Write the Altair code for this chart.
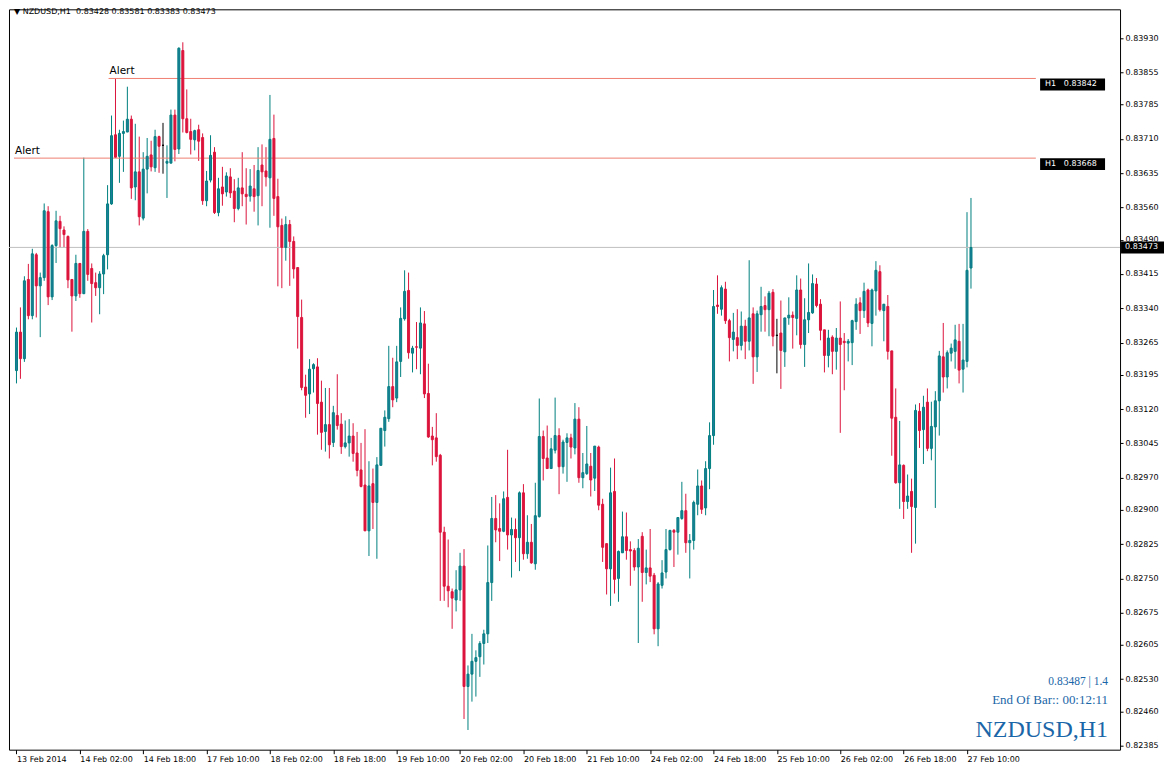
import altair as alt
import pandas as pd

# ---------------- data (prices in points, i.e. price x 1e5) ----------------
symbol = "NZDUSD,H1"
header_text = "\u25BC NZDUSD,H1\u00a0\u00a00.83428 0.83581 0.83383 0.83473"

x_labels = ["13 Feb 2014", "14 Feb 02:00", "14 Feb 18:00", "17 Feb 10:00", "18 Feb 02:00",
            "18 Feb 18:00", "19 Feb 10:00", "20 Feb 02:00", "20 Feb 18:00", "21 Feb 10:00",
            "24 Feb 02:00", "24 Feb 18:00", "25 Feb 10:00", "26 Feb 02:00", "26 Feb 18:00",
            "27 Feb 10:00"]
bars_per_label = 16

y_ticks = [0.83930, 0.83855, 0.83785, 0.83710, 0.83635, 0.83560, 0.83490, 0.83415, 0.83340,
           0.83265, 0.83195, 0.83120, 0.83045, 0.82970, 0.82900, 0.82825, 0.82750, 0.82675,
           0.82605, 0.82530, 0.82460, 0.82385]

open_pts = [
    83204, 83288, 83230, 83403, 83324, 83457, 83389, 83407, 83551, 83365,
    83477, 83530, 83511, 83497, 83403, 83367, 83438, 83372, 83508, 83427,
    83396, 83385, 83415, 83457, 83568, 83719, 83672, 83722, 83725, 83753,
    83605, 83638, 83537, 83644, 83675, 83647, 83715, 83696, 83657, 83657,
    83762, 83688, 83903, 83754, 83726, 83708, 83730, 83713, 83575, 83620,
    83681, 83549, 83605, 83594, 83627, 83596, 83558, 83603, 83589, 83585,
    83601, 83586, 83653, 83640, 83625, 83711, 83584, 83521, 83473, 83523,
    83486, 83429, 83320, 83168, 83153, 83208, 83212, 83135, 83071, 83086,
    83047, 83106, 83087, 83038, 83046, 83061, 83024, 82987, 82954, 82854,
    82957, 82916, 82997, 83073, 83099, 83169, 83144, 83224, 83317, 83379,
    83242, 83256, 83253, 83306, 83154, 83061, 83057, 83019, 82851, 82733,
    82721, 82703, 82725, 82777, 82514, 82541, 82569, 82579, 82608, 82629,
    82741, 82881, 82859, 82853, 82927, 82845, 82857, 82839, 82937, 82804,
    82829, 82782, 82885, 83060, 83013, 82990, 83030, 83062, 82994, 83047,
    83057, 83035, 83098, 82970, 82979, 82995, 82969, 83037, 82912, 82826,
    82771, 82940, 82750, 82806, 82841, 82813, 82811, 82775, 82842, 82763,
    82773, 82757, 82640, 82735, 82764, 82813, 82855, 82851, 82881, 82898,
    82828, 82833, 82912, 82952, 82904, 82990, 83062, 83347, 83338, 83382,
    83313, 83272, 83276, 83259, 83301, 83268, 83328, 83234, 83326, 83346,
    83337, 83375, 83281, 83286, 83245, 83319, 83325, 83318, 83380, 83261,
    83315, 83330, 83393, 83349, 83293, 83237, 83277, 83246, 83275, 83268,
    83264, 83265, 83311, 83352, 83335, 83380, 83307, 83378, 83420, 83335,
    83344, 83247, 83102, 82959, 82997, 82918, 82940, 82905, 83115, 83075,
    83135, 83034, 83081, 83138, 83234, 83190, 83242, 83246, 83268, 83207,
    83224, 83428]

high_pts = [
    83298, 83342, 83410, 83437, 83470, 83461, 83418, 83569, 83563, 83480,
    83553, 83542, 83519, 83499, 83404, 83457, 83439, 83669, 83513, 83438,
    83418, 83421, 83459, 83609, 83761, 83842, 83730, 83750, 83824, 83761,
    83743, 83715, 83681, 83712, 83706, 83730, 83717, 83745, 83696, 83774,
    83774, 83910, 83921, 83818, 83754, 83730, 83741, 83722, 83640, 83718,
    83692, 83625, 83649, 83637, 83646, 83622, 83625, 83681, 83646, 83644,
    83653, 83692, 83698, 83692, 83806, 83763, 83623, 83536, 83541, 83533,
    83497, 83429, 83359, 83195, 83229, 83220, 83231, 83182, 83166, 83166,
    83127, 83196, 83111, 83095, 83098, 83089, 83070, 83046, 83076, 83006,
    82990, 83015, 83078, 83117, 83258, 83232, 83258, 83342, 83423, 83418,
    83258, 83310, 83342, 83334, 83219, 83081, 83111, 83022, 82863, 82835,
    82728, 82768, 82806, 82814, 82560, 82629, 82593, 82613, 82638, 82822,
    82928, 82932, 82914, 82940, 83031, 82883, 82881, 82940, 82956, 82888,
    82869, 82959, 83143, 83073, 83084, 83057, 83145, 83078, 83053, 83067,
    83066, 83133, 83124, 83024, 83083, 83024, 83039, 83040, 82924, 82826,
    82992, 83012, 82811, 82896, 82894, 82831, 82816, 82836, 82851, 82813,
    82858, 82762, 82742, 82790, 82858, 82856, 82858, 82883, 82961, 82935,
    82847, 82920, 82988, 82964, 83006, 83091, 83380, 83412, 83390, 83398,
    83317, 83330, 83338, 83333, 83315, 83445, 83342, 83335, 83387, 83366,
    83378, 83382, 83317, 83357, 83319, 83364, 83333, 83412, 83405, 83362,
    83438, 83414, 83406, 83360, 83293, 83293, 83281, 83297, 83355, 83286,
    83273, 83315, 83362, 83364, 83396, 83383, 83383, 83443, 83434, 83349,
    83369, 83247, 83165, 83094, 82999, 82977, 82968, 83130, 83133, 83149,
    83165, 83136, 83159, 83247, 83308, 83248, 83263, 83304, 83306, 83306,
    83550, 83581]

low_pts = [
    83176, 83186, 83223, 83316, 83316, 83320, 83277, 83400, 83347, 83358,
    83439, 83472, 83472, 83384, 83289, 83356, 83363, 83371, 83400, 83309,
    83367, 83327, 83371, 83425, 83566, 83670, 83614, 83638, 83725, 83579,
    83576, 83521, 83532, 83591, 83639, 83638, 83636, 83634, 83581, 83657,
    83661, 83677, 83724, 83722, 83676, 83685, 83662, 83566, 83563, 83615,
    83546, 83541, 83564, 83584, 83581, 83528, 83554, 83563, 83523, 83573,
    83551, 83521, 83563, 83606, 83516, 83542, 83388, 83384, 83444, 83389,
    83405, 83252, 83161, 83101, 83109, 83156, 83064, 83031, 83027, 83012,
    83037, 83075, 83022, 83034, 83016, 83005, 82973, 82949, 82854, 82799,
    82858, 82793, 82997, 83038, 83092, 83124, 83135, 83190, 83313, 83230,
    83200, 83207, 83196, 83144, 83057, 82997, 83005, 82701, 82701, 82687,
    82640, 82678, 82701, 82443, 82419, 82481, 82492, 82535, 82562, 82609,
    82701, 82829, 82788, 82851, 82813, 82752, 82786, 82766, 82791, 82793,
    82782, 82769, 82883, 82964, 82989, 82990, 83023, 82934, 82979, 82961,
    83012, 83021, 82959, 82947, 82976, 82929, 82941, 82899, 82786, 82715,
    82690, 82717, 82699, 82806, 82791, 82734, 82767, 82609, 82699, 82737,
    82742, 82628, 82602, 82728, 82750, 82811, 82775, 82802, 82878, 82806,
    82750, 82813, 82888, 82891, 82888, 82945, 83042, 83328, 83324, 83306,
    83224, 83246, 83229, 83248, 83229, 83248, 83175, 83201, 83289, 83289,
    83279, 83257, 83198, 83164, 83212, 83304, 83252, 83281, 83252, 83212,
    83286, 83328, 83342, 83270, 83200, 83211, 83196, 83206, 83068, 83161,
    83224, 83216, 83293, 83284, 83319, 83299, 83257, 83324, 83333, 83268,
    83228, 83018, 82957, 82902, 82880, 82902, 82806, 82826, 83035, 83000,
    83028, 83008, 82904, 83062, 83156, 83165, 83224, 83208, 83176, 83156,
    83211, 83383]

close_pts = [
    83288, 83230, 83400, 83324, 83459, 83389, 83407, 83553, 83365, 83477,
    83531, 83514, 83501, 83402, 83367, 83438, 83372, 83508, 83414, 83394,
    83385, 83415, 83455, 83568, 83717, 83670, 83722, 83726, 83753, 83603,
    83638, 83540, 83644, 83672, 83649, 83715, 83694, 83696, 83661, 83762,
    83687, 83908, 83754, 83724, 83709, 83728, 83705, 83575, 83618, 83674,
    83549, 83601, 83590, 83629, 83592, 83558, 83603, 83590, 83584, 83607,
    83584, 83641, 83638, 83627, 83709, 83580, 83518, 83473, 83523, 83486,
    83426, 83322, 83167, 83150, 83207, 83217, 83132, 83069, 83086, 83042,
    83112, 83084, 83038, 83046, 83061, 83023, 82986, 82951, 82854, 82952,
    82916, 82998, 83078, 83102, 83169, 83140, 83223, 83318, 83377, 83243,
    83253, 83255, 83308, 83153, 83059, 83053, 83016, 82851, 82733, 82723,
    82707, 82725, 82777, 82514, 82541, 82569, 82577, 82608, 82629, 82741,
    82881, 82856, 82853, 82924, 82845, 82857, 82839, 82937, 82804, 82829,
    82784, 82887, 83060, 83012, 82990, 83033, 83062, 82994, 83048, 83057,
    83037, 83098, 82970, 82981, 83000, 82965, 83039, 82910, 82818, 82771,
    82937, 82748, 82809, 82841, 82811, 82810, 82775, 82816, 82763, 82773,
    82755, 82640, 82738, 82762, 82813, 82855, 82851, 82883, 82898, 82828,
    82833, 82916, 82952, 82901, 82990, 83062, 83344, 83344, 83385, 83313,
    83276, 83288, 83259, 83301, 83268, 83319, 83234, 83328, 83344, 83337,
    83373, 83279, 83281, 83248, 83319, 83325, 83320, 83380, 83261, 83315,
    83331, 83394, 83346, 83292, 83237, 83275, 83246, 83275, 83261, 83265,
    83268, 83313, 83349, 83335, 83377, 83308, 83380, 83423, 83337, 83349,
    83246, 83100, 82959, 82998, 82918, 82930, 82907, 83117, 83073, 83124,
    83034, 83082, 83138, 83236, 83190, 83243, 83253, 83271, 83205, 83227,
    83423, 83473]

alert_prices = [0.83842, 0.83668]
alert_start_bar = [23.25, -0.625]
alert_names = ["Alert", "Alert"]
alert_box_text = ["H1\u00a0\u00a0\u00a00.83842", "H1\u00a0\u00a0\u00a00.83668"]
current_price = 0.83473
current_text = "0.83473"
info_lines = ["0.83487 | 1.4", "End Of Bar:: 00:12:11"]

# ---------------- layout constants ----------------
W, H = 1112, 741
Y_TOP, Y_BOT = 0.83993, 0.82376
PX = (Y_TOP - Y_BOT) / H          # price per pixel
X0 = -0.625
X1 = X0 + W / 4.0                 # 4 px per bar
BOX_L, BOX_R = W - 80, W - 15     # alert price boxes (pixels)

FONT = "DejaVu Sans"
SERIF = "Liberation Serif"
BLUE = "#1A66A8"

n = len(open_pts)
df = pd.DataFrame({
    "bar": list(range(n)),
    "open": [v / 1e5 for v in open_pts],
    "high": [v / 1e5 for v in high_pts],
    "low": [v / 1e5 for v in low_pts],
    "close": [v / 1e5 for v in close_pts],
})
df["dir"] = ["up" if c > o else ("down" if c < o else "doji")
             for o, c in zip(df["open"], df["close"])]

xs = alt.Scale(domain=[X0, X1], nice=False, zero=False)
ys = alt.Scale(domain=[Y_BOT, Y_TOP], nice=False, zero=False)

label_expr = "[" + ",".join("'%s'" % s for s in x_labels) + "][round(datum.value / %d)]" % bars_per_label
x_axis = alt.Axis(values=[i * bars_per_label for i in range(len(x_labels))], labelExpr=label_expr,
                  labelAlign="left", labelBaseline="top", labelPadding=2, labelFlush=False,
                  labelOverlap=False, tickSize=4, tickColor="black", domain=False, grid=False,
                  labelFont=FONT, labelFontSize=8, labelColor="black", title=None)
y_axis = alt.Axis(orient="right", values=y_ticks, format=".5f", labelAlign="left",
                  labelBaseline="middle", labelPadding=2, labelOverlap=False, labelFlush=False,
                  labelBound=False, tickSize=3, tickColor="black", domain=False, grid=False,
                  labelFont=FONT, labelFontSize=8, labelColor="black", title=None)


def X(field):
    return alt.X(field, scale=xs, axis=x_axis)


def Y(field):
    return alt.Y(field, scale=ys, axis=y_axis)


dirs = ["up", "down", "doji"]
wick_scale = alt.Scale(domain=dirs, range=["#008080", "#DC143C", "#000000"])
fill_scale = alt.Scale(domain=dirs, range=["#1F7A9C", "#DC143C", "#000000"])

base = alt.Chart(df)
wicks = base.mark_rule(strokeWidth=1).encode(
    x=X("bar:Q"), y=Y("low:Q"), y2="high:Q",
    color=alt.Color("dir:N", scale=wick_scale, legend=None),
)
bodies = base.mark_bar(size=2, strokeWidth=1).encode(
    x=X("bar:Q"), y=Y("open:Q"), y2="close:Q",
    fill=alt.Fill("dir:N", scale=fill_scale, legend=None),
    stroke=alt.Stroke("dir:N", scale=wick_scale, legend=None),
)

# current price line + box
cur_df = pd.DataFrame({"price": [current_price], "hi": [current_price + 6 * PX],
                       "lo": [current_price - 6 * PX], "t": [current_text]})
cur_line = alt.Chart(cur_df).mark_rule(color="#C0C0C0", strokeWidth=1).encode(y=Y("price:Q"))
cur_box = alt.Chart(cur_df).mark_rect(color="black").encode(
    x=alt.value(W + 1), x2=alt.value(W + 44), y=Y("hi:Q"), y2="lo:Q")
cur_txt = alt.Chart(cur_df).mark_text(align="left", baseline="middle", font=FONT, fontSize=8,
                                      color="white").encode(
    x=alt.value(W + 5), y=Y("price:Q"), text="t:N")

# alert lines
al_df = pd.DataFrame({"price": alert_prices, "start": alert_start_bar,
                      "end": [X0 + BOX_L / 4.0] * len(alert_prices),
                      "name": alert_names, "box": alert_box_text})
al_df["lo"] = al_df["price"] - 12 * PX
al_df["mid"] = al_df["price"] - 6 * PX
al_lines = alt.Chart(al_df).mark_rule(color="#F08070", strokeWidth=1).encode(
    x=X("start:Q"), x2="end:Q", y=Y("price:Q"))
al_names = alt.Chart(al_df).mark_text(align="left", baseline="alphabetic", dx=1, dy=-4,
                                      font=FONT, fontSize=10.5, color="black").encode(
    x=X("start:Q"), y=Y("price:Q"), text="name:N")
al_boxes = alt.Chart(al_df).mark_rect(color="black").encode(
    x=alt.value(BOX_L), x2=alt.value(BOX_R), y=Y("price:Q"), y2="lo:Q")
al_btxt = alt.Chart(al_df).mark_text(align="left", baseline="middle", font=FONT, fontSize=8,
                                     color="white").encode(
    x=alt.value(BOX_L + 5), y=Y("mid:Q"), text="box:N")

# header and info texts
hdr = alt.Chart(pd.DataFrame({"t": [header_text]})).mark_text(
    align="left", baseline="middle", font=FONT, fontSize=8, color="black").encode(
    x=alt.value(5), y=alt.value(3), text="t:N")
info1 = alt.Chart(pd.DataFrame({"t": [info_lines[0]]})).mark_text(
    align="right", baseline="middle", font=SERIF, fontSize=11.5, color=BLUE).encode(
    x=alt.value(W - 12), y=alt.value(673), text="t:N")
info2 = alt.Chart(pd.DataFrame({"t": [info_lines[1]]})).mark_text(
    align="right", baseline="middle", font=SERIF, fontSize=13, color=BLUE).encode(
    x=alt.value(W - 12), y=alt.value(691), text="t:N")
info3 = alt.Chart(pd.DataFrame({"t": [symbol]})).mark_text(
    align="right", baseline="middle", font=SERIF, fontSize=24, color=BLUE).encode(
    x=alt.value(W - 12), y=alt.value(721), text="t:N")

chart = alt.layer(
    wicks, cur_line, al_lines, bodies, al_names, al_boxes, al_btxt,
    cur_box, cur_txt, hdr, info1, info2, info3
).properties(width=W, height=H, padding=0, background="white").configure_view(
    stroke="black", strokeWidth=1
).configure_axis(labelOverlap=False)

chart.save("out.html", embed_options={"renderer": "svg", "actions": False})
